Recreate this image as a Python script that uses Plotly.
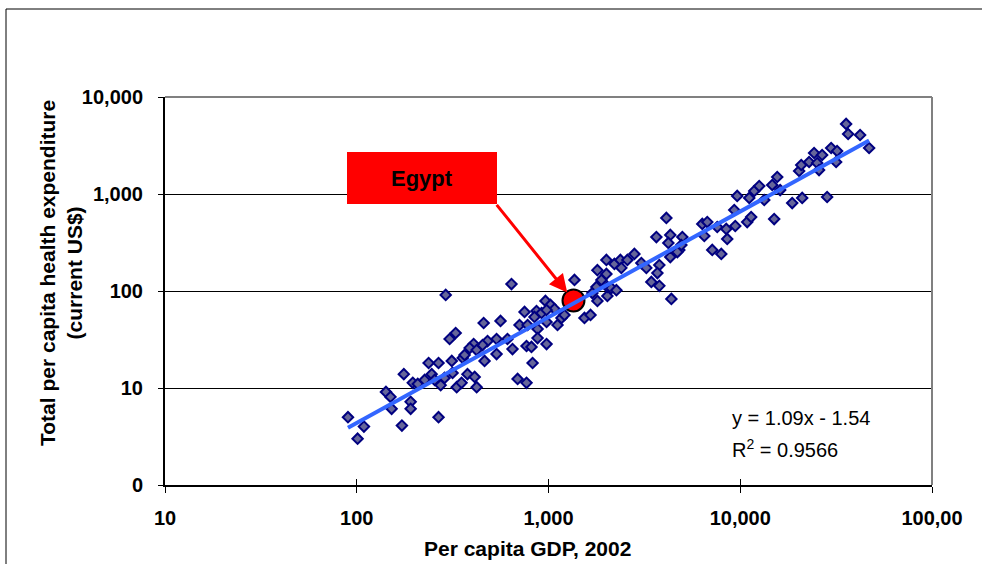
import math
import plotly.graph_objects as go

# Per capita GDP (current US$, 2002) for each country
gdp = [90, 109, 101, 142, 150, 152, 172, 176, 191, 191, 196, 208, 226, 237, 246, 255, 267, 274, 267, 287,
       291, 305, 328, 313, 316, 332, 352, 357,
       641, 459, 562, 750, 964, 1024, 1075, 866, 845, 920, 977, 706, 778, 877, 977, 1114, 1169, 1211, 877,
       977, 768, 815, 649, 611, 536, 481, 453, 407, 388, 365, 536, 464, 422, 826, 378, 412, 422, 690, 768,
       1366, 1540, 1656, 1694, 1799, 2028, 1778, 2028, 2128, 2260, 1888, 1799, 2004, 2004, 2207, 2371, 2579,
       2805, 2399, 3050, 3239, 3784, 3697, 3438, 3784, 4373, 4117, 3652, 4316, 4217, 4808, 4989, 4316,
       4699, 4931, 6339, 6730, 6494, 7145, 7962, 7586, 8453, 8551, 9306, 9418, 9640, 10870, 11400, 11140,
       11830, 12560, 13340, 15030, 14680, 15590, 16150, 18660,
       21040, 28380, 20280, 20800, 22860, 24270, 25180, 25760, 26730, 29790, 31620, 31990, 35650, 36520,
       42170, 46990]

# Total per capita health expenditure (current US$) for the same countries
health = [5.0, 4.0, 3.0, 9.1, 8.1, 6.1, 4.1, 13.9, 7.2, 6.1, 11.3, 11.0, 12.1, 18.1, 13.9, 12.1, 18.1, 10.7,
          5.0, 12.7, 91, 32.0, 36.9, 19.0, 14.3, 10.2, 11.3, 20.4,
          118, 46.8, 49.1, 60.8, 78.9, 71.8, 65.2, 62.2, 54.0, 59.3, 63.7, 44.6, 44.6, 40.6, 47.9, 44.6, 52.7,
          56.6, 32.7, 28.4, 27.1, 26.5, 25.2, 32.0, 32.0, 30.5, 27.7, 28.4, 25.8, 21.9, 22.4, 19.0, 24.6, 18.1,
          13.9, 13.0, 10.2, 12.4, 11.3,
          130, 52.7, 56.6, 95.3, 78.9, 88.8, 110, 110, 107, 102, 130, 164, 150, 209, 190, 209, 209, 241, 173,
          194, 173, 185, 153, 124, 113, 82.8, 566, 360, 378, 313, 265, 360, 224,
          252, 298, 491, 514, 369, 265, 241, 457, 436, 344, 684, 468, 954, 514, 579, 910, 1074, 1208, 867, 552,
          1238, 1497, 1099, 807,
          910, 931, 1726, 1991, 2138, 2647, 2087, 1767, 2523, 2980, 2138, 2774, 5272, 4155, 4058, 2980]

# Highlighted country
egypt_name = "Egypt"
egypt_gdp = 1350
egypt_health = 80

# Log-log regression: log10(y) = slope * log10(x) + intercept
slope = 1.09
intercept = -1.54
r_squared = 0.9566

x_ticks = [10, 100, 1000, 10000, 100000]
x_ticktext = ["10", "100", "1,000", "10,000", "100,00"]
y_ticks = [1, 10, 100, 1000, 10000]
y_ticktext = ["0", "10", "100", "1,000", "10,000"]

x_title = "Per capita GDP, 2002"
y_title = "Total per capita health expenditure<br>(current US$)"

FONT = "Liberation Sans, Arial, sans-serif"
W, H = 982, 564
ML, MR, MT, MB = 165, 50, 97, 79
PW, PH = W - ML - MR, H - MT - MB


def px_x(p):
    """Pixel column -> paper x."""
    return (p - ML) / PW


def px_y(p):
    """Pixel row -> paper y."""
    return (H - MB - p) / PH


fit_x = [min(gdp), max(gdp)]
fit_y = [10 ** (slope * math.log10(v) + intercept) for v in fit_x]

fig = go.Figure()

fig.add_trace(go.Scatter(
    x=gdp, y=health, mode="markers",
    marker=dict(symbol="diamond", size=8, color="#666699",
                line=dict(color="#000080", width=2)),
    hoverinfo="x+y", showlegend=False,
))

fig.add_trace(go.Scatter(
    x=[egypt_gdp], y=[egypt_health], mode="markers",
    marker=dict(symbol="circle", size=22, color="#FF0000",
                line=dict(color="#000000", width=2)),
    name=egypt_name, showlegend=False,
))

# Trend line sits on an overlaid pair of axes so it is drawn above the markers
fig.add_trace(go.Scatter(
    x=fit_x, y=fit_y, mode="lines", xaxis="x2", yaxis="y2",
    line=dict(color="#3366FF", width=4),
    hoverinfo="skip", showlegend=False,
))

tick_font = dict(family=FONT, size=20, color="#000000", weight="bold")

fig.update_layout(
    width=W, height=H,
    margin=dict(l=ML, r=MR, t=MT, b=MB, pad=0),
    paper_bgcolor="#FFFFFF", plot_bgcolor="#FFFFFF",
    font=dict(family=FONT, color="#000000"),
    xaxis=dict(
        type="log", range=[1, 5], tickvals=x_ticks, ticktext=x_ticktext,
        ticks="outside", ticklen=6, tickwidth=1, tickcolor="#000000",
        tickfont=tick_font, ticklabelstandoff=8,
        showgrid=False, zeroline=False,
        showline=True, linecolor="#000000", linewidth=2,
    ),
    yaxis=dict(
        type="log", range=[0, 4], tickvals=y_ticks, ticktext=y_ticktext,
        ticks="outside", ticklen=5, tickwidth=1, tickcolor="#000000",
        tickfont=tick_font, ticklabelstandoff=11,
        showgrid=True, gridcolor="#000000", gridwidth=1,
        zeroline=False,
        showline=True, linecolor="#000000", linewidth=2,
    ),
    xaxis2=dict(
        type="log", range=[1, 5], overlaying="x", anchor="y2", side="bottom",
        tickvals=x_ticks, ticks="inside", ticklen=6, tickwidth=1, tickcolor="#000000",
        showticklabels=False, showgrid=False, zeroline=False, showline=False,
    ),
    yaxis2=dict(
        type="log", range=[0, 4], overlaying="y", anchor="x2", side="left",
        tickvals=y_ticks, ticks="inside", ticklen=5, tickwidth=1, tickcolor="#000000",
        showticklabels=False, showgrid=False, zeroline=False, showline=False,
    ),
)

shapes = [
    # gray plot-area border on top and right
    dict(type="line", xref="paper", yref="paper", x0=0, x1=1, y0=1, y1=1,
         line=dict(color="#808080", width=2), layer="above"),
    dict(type="line", xref="paper", yref="paper", x0=1, x1=1, y0=0, y1=1,
         line=dict(color="#808080", width=2), layer="above"),
    # outer chart frame
    dict(type="rect", xref="paper", yref="paper",
         x0=px_x(6), x1=px_x(W + 20), y0=px_y(H + 20), y1=px_y(9),
         line=dict(color="#000000", width=1), fillcolor="rgba(0,0,0,0)", layer="below"),
    # callout box
    dict(type="rect", xref="paper", yref="paper",
         x0=px_x(347), x1=px_x(497), y0=px_y(204), y1=px_y(152),
         line=dict(width=0), fillcolor="#FF0000", layer="above"),
]
fig.update_layout(shapes=shapes)

annotations = [
    dict(xref="paper", yref="paper", x=px_x(422), y=px_y(178),
         text="<b>%s</b>" % egypt_name, showarrow=False,
         font=dict(family=FONT, size=22, color="#000000"),
         xanchor="center", yanchor="middle"),
    dict(xref="x", yref="y", x=math.log10(egypt_gdp), y=math.log10(egypt_health),
         text="", showarrow=True, ax=-78, ay=-97,
         arrowcolor="#FF0000", arrowwidth=3, arrowhead=2, arrowsize=1.2, standoff=10),
    dict(xref="paper", yref="paper", x=px_x(730), y=px_y(418),
         text="y = %.2fx - %.2f" % (slope, -intercept), showarrow=False,
         font=dict(family=FONT, size=20, color="#000000"),
         xanchor="left", yanchor="middle"),
    dict(xref="paper", yref="paper", x=px_x(730), y=px_y(448),
         text="R<sup>2</sup> = %.4f" % r_squared, showarrow=False,
         font=dict(family=FONT, size=20, color="#000000"),
         xanchor="left", yanchor="middle"),
    dict(xref="paper", yref="paper", x=px_x(527), y=px_y(548),
         text="<b>%s</b>" % x_title, showarrow=False,
         font=dict(family=FONT, size=21, color="#000000"),
         xanchor="center", yanchor="middle"),
    dict(xref="paper", yref="paper", x=px_x(61), y=px_y(273),
         text="<b>%s</b>" % y_title, showarrow=False, textangle=-90,
         font=dict(family=FONT, size=21, color="#000000"),
         xanchor="center", yanchor="middle"),
]
fig.update_layout(annotations=annotations)

fig.write_html("out.html")
